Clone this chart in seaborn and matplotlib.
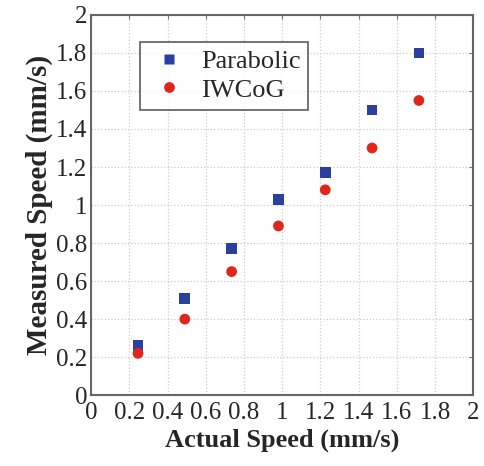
import matplotlib
matplotlib.use("Agg")
import matplotlib.pyplot as plt
import pandas as pd
import seaborn as sns

# Data
actual_speed = [0.245, 0.49, 0.735, 0.98, 1.225, 1.47, 1.715]
parabolic = [0.26, 0.51, 0.77, 1.03, 1.17, 1.50, 1.80]
iwcog = [0.22, 0.40, 0.65, 0.89, 1.08, 1.30, 1.55]
ticks = [0, 0.2, 0.4, 0.6, 0.8, 1, 1.2, 1.4, 1.6, 1.8, 2]
tick_labels = ["0", "0.2", "0.4", "0.6", "0.8", "1", "1.2", "1.4", "1.6", "1.8", "2"]

df = pd.DataFrame({
    "Actual": actual_speed * 2,
    "Measured": parabolic + iwcog,
    "Method": ["Parabolic"] * len(parabolic) + ["IWCoG"] * len(iwcog),
})

sns.set_style("white")
plt.rcParams["font.family"] = ["Liberation Serif", "DejaVu Serif"]

fig = plt.figure(figsize=(4.85, 4.66), dpi=100)
ax = fig.add_axes([0.188, 0.152, 0.788, 0.816])

sns.scatterplot(data=df, x="Actual", y="Measured", hue="Method", style="Method",
                palette={"Parabolic": "#2b3f9e", "IWCoG": "#e0251b"},
                markers={"Parabolic": "s", "IWCoG": "o"},
                s=60, edgecolor="none", ax=ax)

ax.set_xlim(0, 2)
ax.set_ylim(0, 2)
ax.set_xticks(ticks)
ax.set_xticklabels(tick_labels)
ax.set_yticks(ticks)
ax.set_yticklabels(tick_labels)
ax.tick_params(direction="in", length=3, top=True, right=True, labelsize=18,
               color="#777777", pad=3)
ax.tick_params(axis="x", pad=5)
ax.grid(True, linestyle=":", color="#cccccc", linewidth=0.9)
for sp in ax.spines.values():
    sp.set_color("#666666")
    sp.set_linewidth(1.5)

ax.set_xlabel("Actual Speed (mm/s)", fontsize=19, fontweight="bold", labelpad=3)
ax.set_ylabel("Measured Speed (mm/s)", fontsize=21, fontweight="bold", labelpad=2)

leg = ax.legend(loc="upper left", bbox_to_anchor=(0.128, 0.93), fontsize=19,
                frameon=True, fancybox=False, edgecolor="#333333",
                handletextpad=0.4, handlelength=1.6, borderpad=0.3,
                labelspacing=0.2, borderaxespad=0, markerscale=1.0)
leg.get_frame().set_linewidth(1.2)

fig.savefig("out.png", dpi=100)
